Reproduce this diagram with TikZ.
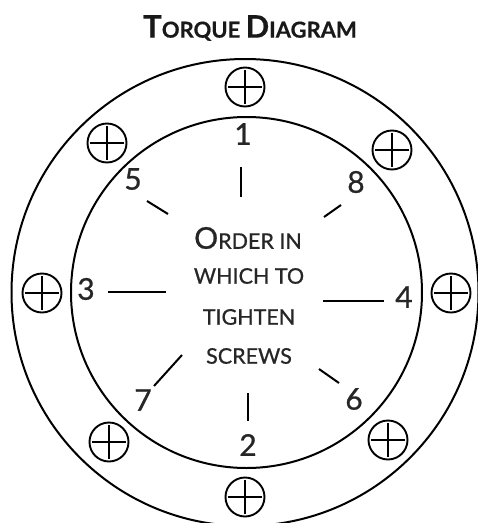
\documentclass[tikz,border=0pt]{standalone}
\usepackage{fontspec}
\setmainfont[FakeBold=0.8]{Lato}
\newfontfamily\titlefont[FakeBold=0.5]{Lato Bold}
\usepackage{tikz}
\begin{document}
\begin{tikzpicture}[
x=1pt,
y=-1pt,
screw/.style={
draw,
circle,
line width=1.9pt,
minimum size=39pt,
inner sep=0pt,
path picture={
\draw[line width=1.9pt] ([xshift=-17pt]path picture bounding box.center) -- ([xshift=17pt]path picture bounding box.center);
\draw[line width=1.9pt] ([yshift=-17pt]path picture bounding box.center) -- ([yshift=17pt]path picture bounding box.center);
}
},
num/.style={
inner sep=0pt,
font=\fontsize{30}{30}\selectfont,
text=black!85
},
order/.style={
inner sep=0pt,
font=\fontsize{21.5}{21.5}\selectfont,
text=black!85
},
tick/.style={
line width=2pt
}
]
\useasboundingbox (0,0) rectangle (478,523);

% rings
\begin{scope}
\clip (0,0) rectangle (478,523);
\draw[line width=2pt] (245,292.5) circle (233.5);
\draw[line width=2pt] (246.5,292.5) circle (175.5);
\end{scope}

\node[inner sep=0pt, text=black!90, font=\titlefont\fontsize{22}{22}\selectfont] (title) at (250,28)
{\fontsize{31}{31}\selectfont T\fontsize{22}{22}\selectfont ORQUE \fontsize{31}{31}\selectfont D\fontsize{22}{22}\selectfont IAGRAM};

% screws
\node[screw] (top) at (245,87) {};
\node[screw] (topleft) at (107,143) {};
\node[screw] (topright) at (392,150) {};
\node[screw] (left) at (42,293) {};
\node[screw] (right) at (451,293) {};
\node[screw] (botleft) at (109,442) {};
\node[screw] (botright) at (388,440) {};
\node[screw] (bot) at (245,497) {};

% numbers
\node[num] (one) at (243,134) {1};
\node[num] (five) at (133,179) {5};
\node[num] (eight) at (356,182) {8};
\node[num] (three) at (86,289) {3};
\node[num] (four) at (404,297) {4};
\node[num] (seven) at (143,400) {7};
\node[num] (six) at (354,399) {6};
\node[num] (two) at (248,445) {2};

% ticks
\draw[tick] (241,167) -- (241,197);
\draw[tick] (147,201) -- (168,214);
\draw[tick] (341,205) -- (324,217);
\draw[tick] (108,292) -- (166,292);
\draw[tick] (323,301) -- (384,301);
\draw[tick] (182,355) -- (154,386);
\draw[tick] (319,369) -- (339,383);
\draw[tick] (248,393) -- (248,421);

% centre text
\node[order] (line1) at (248,238) {\fontsize{30}{30}\selectfont O\fontsize{21.5}{21.5}\selectfont RDER IN};
\node[order] (line2) at (249,276) {WHICH TO};
\node[order] (line3) at (249,317) {TIGHTEN};
\node[order] (line4) at (249,356) {SCREWS};

\end{tikzpicture}
\end{document}
